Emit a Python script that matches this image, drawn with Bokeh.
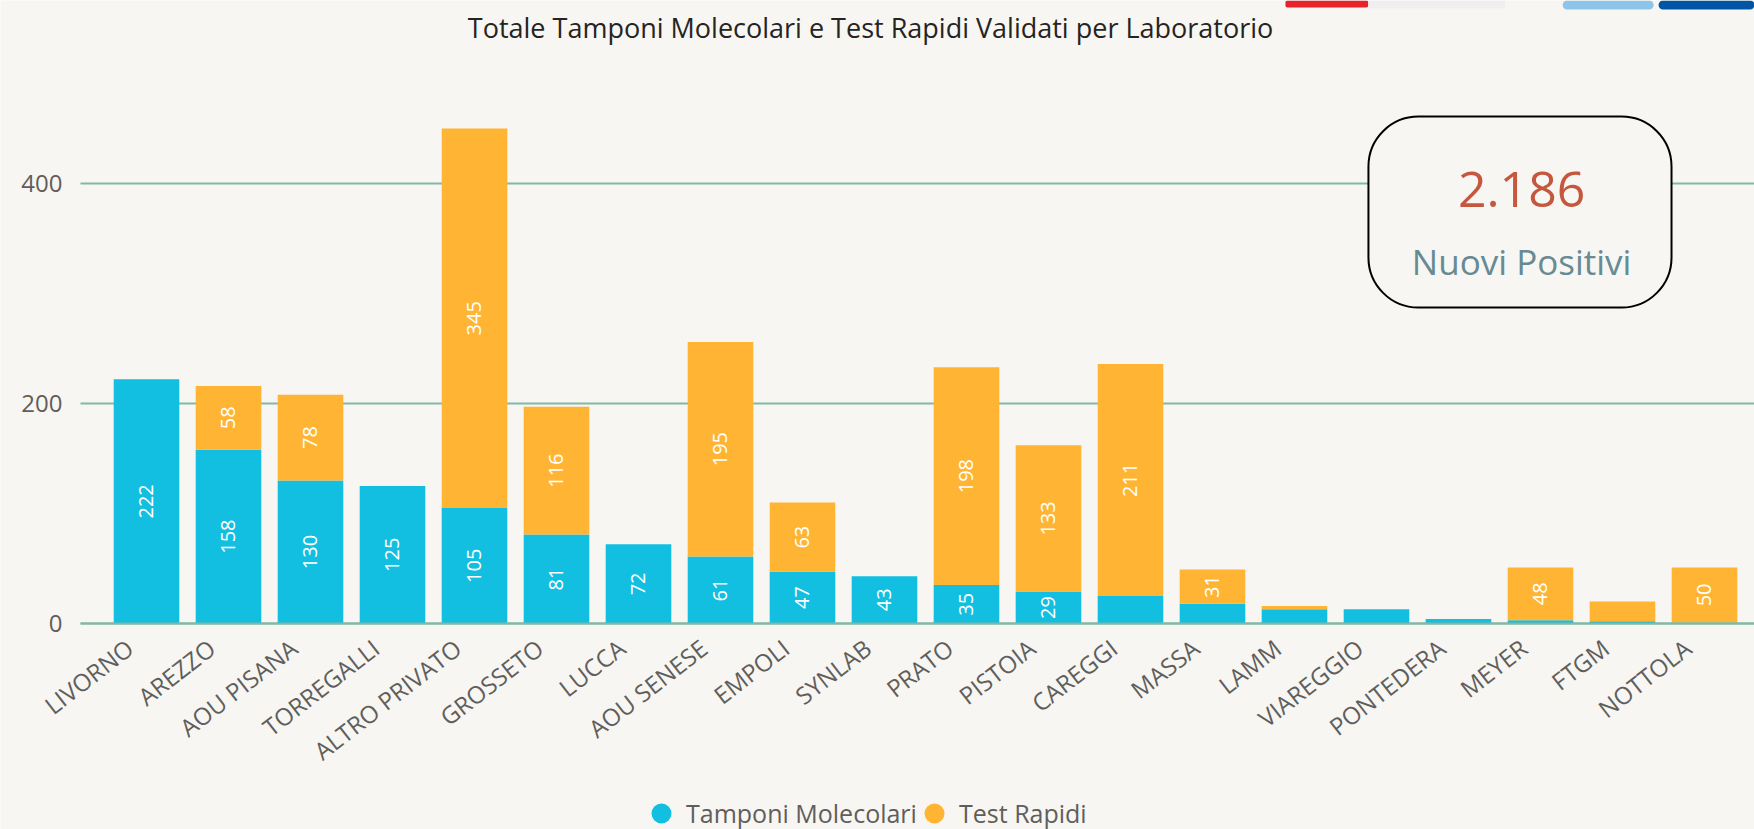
import numpy as np
from bokeh.plotting import figure
from bokeh.models import (ColumnDataSource, Range1d, FixedTicker, Label,
                          BoxAnnotation, Legend, LegendItem)
from bokeh.core.properties import value
from bokeh.embed import file_html
from bokeh.resources import INLINE

# ---------------- data ----------------
labs = ["LIVORNO", "AREZZO", "AOU PISANA", "TORREGALLI", "ALTRO PRIVATO",
        "GROSSETO", "LUCCA", "AOU SENESE", "EMPOLI", "SYNLAB", "PRATO",
        "PISTOIA", "CAREGGI", "MASSA", "LAMM", "VIAREGGIO", "PONTEDERA",
        "MEYER", "FTGM", "NOTTOLA"]
molecolari = [222, 158, 130, 125, 105, 81, 72, 61, 47, 43, 35, 29, 25, 18,
              13, 13, 4, 3, 2, 1]
rapidi = [0, 58, 78, 0, 345, 116, 0, 195, 63, 0, 198, 133, 211, 31,
          3, 0, 0, 48, 18, 50]
y_ticks = [0, 200, 400]
series_names = ["Tamponi Molecolari", "Test Rapidi"]
title_text = "Totale Tamponi Molecolari e Test Rapidi Validati per Laboratorio"
kpi_value = "2.186"
kpi_label = "Nuovi Positivi"

# ---------------- style ----------------
BG = "#F7F6F2"
BLUE = "#12BFE0"
ORANGE = "#FFB533"
GRID = "#82B8A4"
TXT = "#605E5C"
FONT = "Open Sans"
MIN_LABEL = 28          # segments shorter than this get no inside label
X_LEFT, X_RIGHT = -0.805, 19.61   # plotting area bounds (category units)

x = list(range(len(labs)))
tot = [m + r for m, r in zip(molecolari, rapidi)]
base = [0] * len(labs)
src = ColumnDataSource(dict(x=x, mol=molecolari, rap=rapidi, tot=tot,
                            base=base, lab=labs))

p = figure(width=1754, height=829, output_backend="svg", toolbar_location=None,
           x_range=Range1d(-1.7805, X_RIGHT), y_range=Range1d(-187.3, 566.4),
           min_border_left=0, min_border_right=0, min_border_top=0,
           min_border_bottom=0,
           background_fill_color=BG, border_fill_color=BG,
           outline_line_color=None)

# horizontal gridlines starting at the left edge of the plotting area
p.xgrid.visible = False
p.ygrid.visible = False
p.ray(x=[X_LEFT] * len(y_ticks), y=y_ticks, length=0, angle=0,
      line_color=GRID, line_width=2, level="underlay")

p.vbar(x="x", top="mol", width=0.8, source=src, fill_color=BLUE, line_color=None)
p.vbar(x="x", bottom="mol", top="tot", width=0.8, source=src,
       fill_color=ORANGE, line_color=None)

# labels inside bars
bx = [i for i, m in zip(x, molecolari) if m >= MIN_LABEL]
by = [m / 2 for m in molecolari if m >= MIN_LABEL]
bt = [str(m) for m in molecolari if m >= MIN_LABEL]
ox = [i for i, r in zip(x, rapidi) if r >= MIN_LABEL]
oy = [m + r / 2 for m, r in zip(molecolari, rapidi) if r >= MIN_LABEL]
ot = [str(r) for r in rapidi if r >= MIN_LABEL]
for xs, ys, ts in ((bx, by, bt), (ox, oy, ot)):
    p.text(x=xs, y=ys, text=ts, angle=np.pi / 2, text_align="center",
           text_baseline="middle", text_font=value(FONT),
           text_font_size="20px", text_color="white")

# y axis
p.yaxis.fixed_location = X_LEFT
p.yaxis.ticker = FixedTicker(ticks=y_ticks)
p.yaxis.axis_line_color = None
p.yaxis.major_tick_line_color = None
p.yaxis.minor_tick_line_color = None
p.yaxis.major_label_standoff = 12
p.yaxis.major_label_text_font = FONT
p.yaxis.major_label_text_font_size = "24px"
p.yaxis.major_label_text_color = TXT

# x axis: baseline from the axis, slanted category labels as text
p.xaxis.fixed_location = 0
p.xaxis.bounds = (X_LEFT, X_RIGHT)
p.xaxis.ticker = FixedTicker(ticks=[])
p.xaxis.axis_line_color = GRID
p.xaxis.axis_line_width = 2
p.xaxis.major_tick_line_color = None
p.xaxis.minor_tick_line_color = None
p.text(x="x", y="base", text="lab", source=src, angle=0.66,
       text_align="right", text_baseline="top", x_offset=-27, y_offset=8,
       text_font=value(FONT), text_font_size="24px", text_color=TXT)

# fragments of the page header visible at the very top
for l, r, b, c, rad in ((13.89, 14.90, 560.0, "#E8232A", 2),
                        (14.90, 16.57, 559.1, "#EFEFEF", 2),
                        (17.27, 18.38, 558.2, "#8EC4E8", 8),
                        (18.44, 19.61, 558.2, "#0055A5", 8)):
    p.add_layout(BoxAnnotation(left=l, right=r, top=566.4, bottom=b,
                               fill_color=c, fill_alpha=1, line_color=None,
                               border_radius=rad))

# title
p.add_layout(Label(x=8.83, y=542, text=title_text, text_align="center",
                   text_baseline="middle", text_font=FONT,
                   text_font_size="27px", text_color="#252423"))

# KPI card
p.add_layout(BoxAnnotation(left=14.902, right=18.598, top=460.9, bottom=287.3,
                           fill_color=BG, fill_alpha=1, line_color="black",
                           line_alpha=1, line_width=2, border_radius=50))
p.add_layout(Label(x=16.77, y=394.5, text=kpi_value, text_align="center",
                   text_baseline="middle", text_font=FONT,
                   text_font_size="50px", text_color="#C4573E"))
p.add_layout(Label(x=16.77, y=329, text=kpi_label, text_align="center",
                   text_baseline="middle", text_font=FONT,
                   text_font_size="35px", text_color="#688A92"))

# legend with round markers (hidden renderers: only their legend glyph shows)
r1 = p.scatter(x="x", y="mol", source=src, marker="circle", size=20,
               fill_color=BLUE, line_color=None, visible=False)
r2 = p.scatter(x="x", y="tot", source=src, marker="circle", size=20,
               fill_color=ORANGE, line_color=None, visible=False)
for name, rend, loc in ((series_names[0], r1, (636, -9)),
                        (series_names[1], r2, (909, -9))):
    p.add_layout(Legend(items=[LegendItem(label=name, renderers=[rend])],
                        orientation="horizontal", location=loc,
                        glyph_width=50, glyph_height=50, label_standoff=0,
                        spacing=0, padding=0, margin=0,
                        border_line_color=None, background_fill_alpha=0,
                        label_text_font=FONT, label_text_font_size="25px",
                        label_text_color=TXT))

open("out.html", "w").write(file_html(p, INLINE))
